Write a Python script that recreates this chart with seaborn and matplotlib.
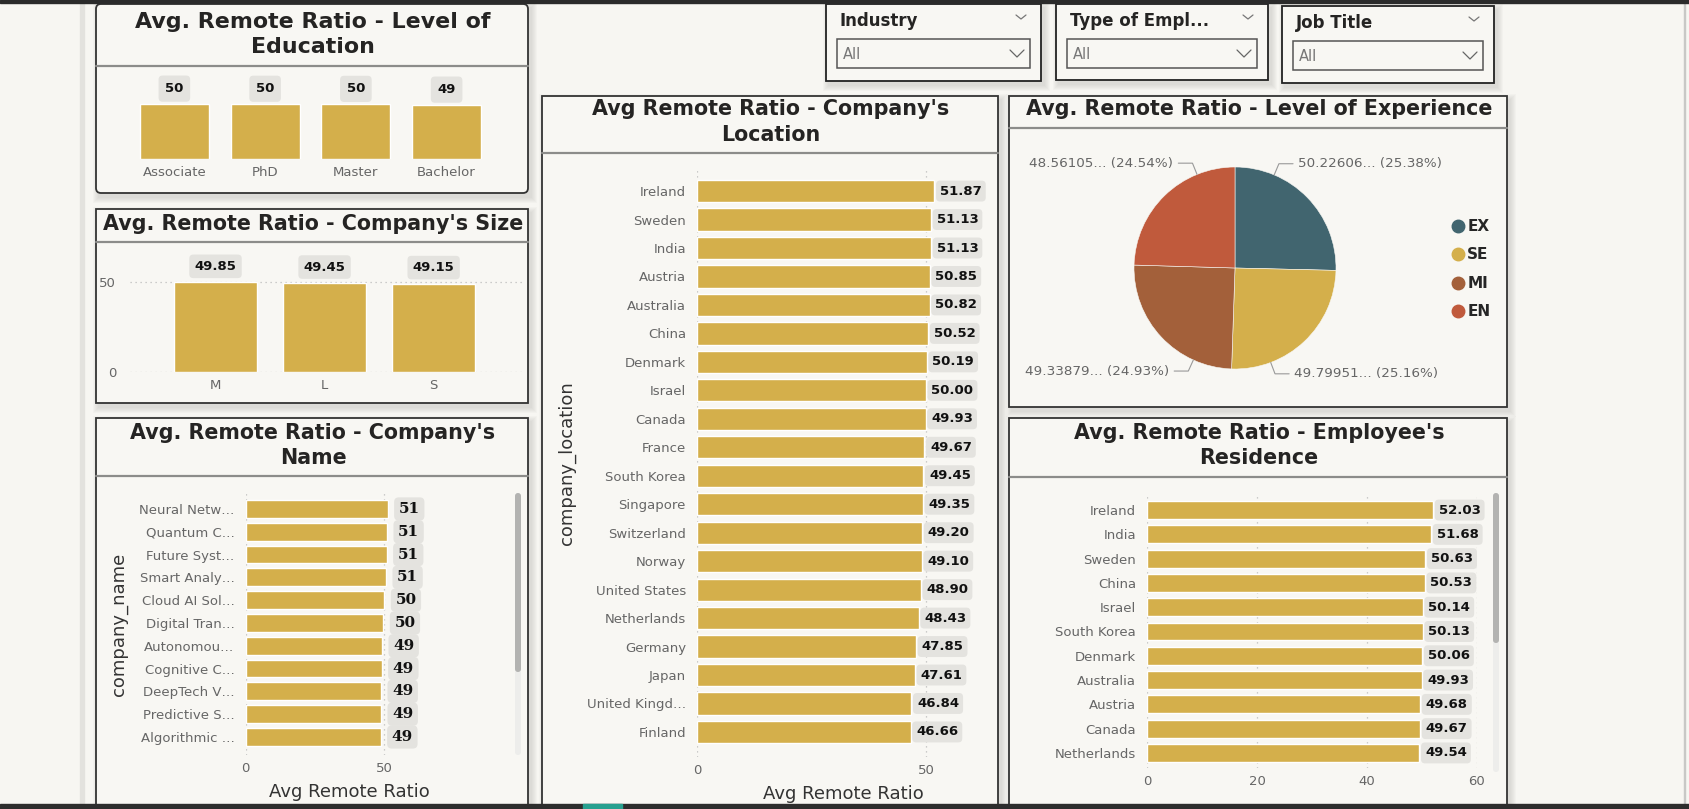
import numpy as np
import pandas as pd
import matplotlib
matplotlib.use("Agg")
import matplotlib.pyplot as plt
import seaborn as sns
from matplotlib.patches import Rectangle, FancyBboxPatch
from matplotlib.lines import Line2D

# ---------------- data ----------------
edu_levels = ["Associate", "PhD", "Master", "Bachelor"]
edu_ratio = [50.1, 50.0, 49.9, 49.2]

size_cats = ["M", "L", "S"]
size_ratio = [49.85, 49.45, 49.15]

company_names = ["Neural Netw…", "Quantum C…", "Future Syst…", "Smart Analy…",
                 "Cloud AI Sol…", "Digital Tran…", "Autonomou…", "Cognitive C…",
                 "DeepTech V…", "Predictive S…", "Algorithmic …"]
company_ratio = [51.2, 50.96, 50.84, 50.6, 50.0, 49.64, 49.16, 49.04, 48.8, 48.8, 48.68]

loc_countries = ["Ireland", "Sweden", "India", "Austria", "Australia", "China", "Denmark",
                 "Israel", "Canada", "France", "South Korea", "Singapore", "Switzerland",
                 "Norway", "United States", "Netherlands", "Germany", "Japan",
                 "United Kingd…", "Finland"]
loc_ratio = [51.87, 51.13, 51.13, 50.85, 50.82, 50.52, 50.19, 50.00, 49.93, 49.67,
             49.45, 49.35, 49.20, 49.10, 48.90, 48.43, 47.85, 47.61, 46.84, 46.66]

exp_levels = ["EX", "SE", "MI", "EN"]
exp_ratio = [50.22606, 49.79951, 49.33879, 48.56105]

res_countries = ["Ireland", "India", "Sweden", "China", "Israel", "South Korea", "Denmark",
                 "Australia", "Austria", "Canada", "Netherlands"]
res_ratio = [52.03, 51.68, 50.63, 50.53, 50.14, 50.13, 50.06, 49.93, 49.68, 49.67, 49.54]

slicer_titles = ["Industry", "Type of Empl...", "Job Title"]
slicer_values = ["All", "All", "All"]

# ---------------- style ----------------
sns.set_style("white")
plt.rcParams["font.family"] = ["DejaVu Sans"]

GOLD = "#D4AF4B"
PIE_COLORS = ["#41656F", "#D4AF4B", "#A3603A", "#C05A3C"]
BG = "#F7F6F2"
PANEL = "#F8F7F3"
TITLE_C = "#252423"
TICK_C = "#666666"
LABEL_BOX = "#E4E3DF"

W, H = 1690, 809
fig = plt.figure(figsize=(W / 100, H / 100), dpi=100, facecolor=BG)

bg = fig.add_axes([0, 0, 1, 1])
bg.set_xlim(0, W)
bg.set_ylim(H, 0)
bg.axis("off")


def fax(l, t, r, b):
    a = fig.add_axes([l / W, 1 - b / H, (r - l) / W, (b - t) / H])
    a.set_facecolor("none")
    return a


# page decorations
bg.add_patch(Rectangle((0, 0), W, 3, color="#2B2B2B", zorder=5))
bg.add_patch(Rectangle((0, 804), W, 5, color="#2D2D2D", zorder=5))
bg.add_patch(Rectangle((583, 804), 39, 5, color="#27A08F", zorder=6))
bg.add_patch(Rectangle((80, 3), 4, 801, color="#E3E2DE", zorder=1))
bg.add_patch(Rectangle((1684, 3), 1, 801, color="#C8C8C6", zorder=1))


def shadow(x0, y0, x1, y1):
    for k in range(6, 0, -1):
        bg.add_patch(Rectangle((x0 - k + 3, y0 - k + 4), (x1 - x0) + 2 * k, (y1 - y0) + 2 * k,
                               color="#9A9A96", alpha=0.05, lw=0, zorder=1))


def panel(x0, y0, x1, y1, sep=None, rounded=False):
    shadow(x0, y0, x1, y1)
    if rounded:
        p = FancyBboxPatch((x0, y0), x1 - x0, y1 - y0, boxstyle="round,pad=0,rounding_size=5",
                           fc=PANEL, ec="#333333", lw=1.3, zorder=2)
    else:
        p = Rectangle((x0, y0), x1 - x0, y1 - y0, fc=PANEL, ec="#333333", lw=1.3, zorder=2)
    bg.add_patch(p)
    if sep is not None:
        bg.plot([x0, x1], [sep, sep], color="#8C8C8A", lw=1.6, zorder=3)


def title(xc, ys, lines, size=14.9):
    for y, s in zip(ys, lines):
        bg.text(xc, y, s, ha="center", va="center", fontsize=size, fontweight="bold",
                color=TITLE_C, zorder=4)


# panels
panel(96, 4, 528, 193, sep=66, rounded=True)
title(313, [22, 47], ["Avg. Remote Ratio - Level of", "Education"], size=15.9)
panel(96, 209, 528, 403, sep=242)
title(313, [224], ["Avg. Remote Ratio - Company's Size"])
panel(96, 418, 528, 806, sep=476)
title(313, [433, 458], ["Avg. Remote Ratio - Company's", "Name"])
panel(542, 96, 998, 806, sep=153)
title(771, [109, 135], ["Avg Remote Ratio - Company's", "Location"])
panel(1009, 96, 1507, 407, sep=128)
title(1259, [109], ["Avg. Remote Ratio - Level of Experience"])
panel(1009, 418, 1507, 806, sep=477)
title(1259, [433, 458], ["Avg. Remote Ratio - Employee's", "Residence"])

# slicers
slicer_boxes = [(826, 4, 1041, 81), (1056, 4, 1268, 80), (1282, 6, 1494, 83)]
for (x0, y0, x1, y1), t, v in zip(slicer_boxes, slicer_titles, slicer_values):
    shadow(x0, y0, x1, y1)
    bg.add_patch(Rectangle((x0, y0), x1 - x0, y1 - y0, fc=PANEL, ec="#222222", lw=1.3, zorder=2))
    bg.text(x0 + 14, y0 + 17, t, ha="left", va="center", fontsize=12, fontweight="bold",
            color="#252423", zorder=4)
    cx = x1 - 20
    bg.plot([cx - 5, cx, cx + 5], [y0 + 11, y0 + 15, y0 + 11], color="#777777", lw=0.9, zorder=4)
    ix0, iy0, ix1, iy1 = x0 + 11, y0 + 35, x1 - 11, y0 + 64
    bg.add_patch(Rectangle((ix0, iy0), ix1 - ix0, iy1 - iy0, fc=PANEL, ec="#555555", lw=1.1, zorder=3))
    bg.text(ix0 + 6, (iy0 + iy1) / 2 + 1, v, ha="left", va="center", fontsize=10.5,
            color="#777777", zorder=4)
    cx = ix1 - 13
    cy = (iy0 + iy1) / 2
    bg.plot([cx - 7, cx, cx + 7], [cy - 3.5, cy + 3.5, cy - 3.5], color="#666666", lw=0.9, zorder=4)

# scrollbars
for (sx, st, sb, tb) in [(515, 493, 755, 672), (1493, 493, 772, 643)]:
    bg.add_patch(FancyBboxPatch((sx, st), 6, sb - st, boxstyle="round,pad=0,rounding_size=3",
                                fc="#EDEDEB", ec="none", zorder=3))
    bg.add_patch(FancyBboxPatch((sx, st), 6, tb - st, boxstyle="round,pad=0,rounding_size=3",
                                fc="#B3B3B1", ec="none", zorder=3))


def style_hbar(ax):
    for s in ax.spines.values():
        s.set_visible(False)
    ax.tick_params(axis="both", length=0, labelsize=9.5, labelcolor=TICK_C)
    ax.tick_params(axis="y", pad=8)
    ax.tick_params(axis="x", pad=5)
    ax.xaxis.grid(True, ls=(0, (1, 3)), color="#BDBDBD", lw=0.9)
    ax.yaxis.grid(False)
    ax.set_axisbelow(True)


def value_box(ax, text, xy, off, ha, size=9.5, family=None, pad=0.3):
    kw = dict(textcoords="offset points", ha=ha, va="center", fontsize=size,
              fontweight="bold", color="#111111",
              bbox=dict(boxstyle=f"round,pad={pad},rounding_size=0.3", fc=LABEL_BOX, ec="none"),
              annotation_clip=False)
    if family:
        kw["family"] = family
    ax.annotate(text, xy=xy, xytext=off, **kw)


# ---------------- Education ----------------
ax = fax(129, 75, 492, 159)
df = pd.DataFrame({"level": edu_levels, "ratio": edu_ratio})
sns.barplot(data=df, x="level", y="ratio", color=GOLD, width=0.76, ax=ax, saturation=1)
ax.set_ylim(0, 76.4)
ax.set_xlim(-0.5, 3.5)
for s in ax.spines.values():
    s.set_visible(False)
ax.set_yticks([])
ax.set_xlabel("")
ax.set_ylabel("")
ax.tick_params(axis="x", length=0, labelsize=9.5, labelcolor=TICK_C, pad=5)
for i, v in enumerate(edu_ratio):
    value_box(ax, f"{v:.0f}", (i, v), (0, 11), "center", size=9.5, pad=0.5)

# ---------------- Company size ----------------
ax = fax(130, 250, 522, 372)
df = pd.DataFrame({"size": size_cats, "ratio": size_ratio})
sns.barplot(data=df, x="size", y="ratio", color=GOLD, width=0.757, ax=ax, saturation=1)
ax.set_ylim(0, 67.8)
ax.set_xlim(-0.784, 2.81)
for s in ax.spines.values():
    s.set_visible(False)
ax.set_yticks([0, 50])
ax.yaxis.grid(True, ls=(0, (1, 3)), color="#BDBDBD", lw=0.9)
ax.set_axisbelow(True)
ax.set_xlabel("")
ax.set_ylabel("")
ax.tick_params(axis="both", length=0, labelsize=9.5, labelcolor=TICK_C)
ax.tick_params(axis="x", pad=5)
ax.tick_params(axis="y", pad=10)
for i, v in enumerate(size_ratio):
    value_box(ax, f"{v:.2f}", (i, v), (0, 11.5), "center", size=9.5, pad=0.4)

# ---------------- Company name ----------------
ax = fax(245.7, 493, 453, 755)
df = pd.DataFrame({"company_name": company_names, "ratio": company_ratio})
sns.barplot(data=df, x="ratio", y="company_name", orient="h", color=GOLD, width=0.78,
            ax=ax, saturation=1)
ax.set_xlim(0, 74.8)
ax.set_ylim(10.79, -0.70)
ax.set_xticks([0, 50])
style_hbar(ax)
ax.set_xlabel("Avg Remote Ratio", fontsize=13, color="#333333", labelpad=6)
ax.set_ylabel("company_name", fontsize=13, color="#333333", labelpad=8)
for i, v in enumerate(company_ratio):
    value_box(ax, f"{v:.0f}", (v, i), (8, 0), "left", size=11, family="DejaVu Serif", pad=0.3)

# ---------------- Company location ----------------
ax = fax(697, 170, 990, 757)
df = pd.DataFrame({"company_location": loc_countries, "ratio": loc_ratio})
sns.barplot(data=df, x="ratio", y="company_location", orient="h", color=GOLD, width=0.78,
            ax=ax, saturation=1)
ax.set_xlim(0, 64)
ax.set_ylim(19.88, -0.74)
ax.set_xticks([0, 50])
style_hbar(ax)
ax.set_xlabel("Avg Remote Ratio", fontsize=13, color="#333333", labelpad=6)
ax.set_ylabel("company_location", fontsize=13, color="#333333", labelpad=8)
for i, v in enumerate(loc_ratio):
    value_box(ax, f"{v:.2f}", (v, i), (4, 0), "left")

# ---------------- Employee residence ----------------
ax = fax(1147, 495, 1477, 768)
df = pd.DataFrame({"employee_residence": res_countries, "ratio": res_ratio})
sns.barplot(data=df, x="ratio", y="employee_residence", orient="h", color=GOLD, width=0.74,
            ax=ax, saturation=1)
ax.set_xlim(0, 60)
ax.set_ylim(10.62, -0.62)
ax.set_xticks([0, 20, 40, 60])
style_hbar(ax)
ax.set_xlabel("")
ax.set_ylabel("")
for i, v in enumerate(res_ratio):
    value_box(ax, f"{v:.2f}", (v, i), (4, 0), "left")

# ---------------- Experience pie ----------------
pax = fax(1235 - 130, 268 - 130, 1235 + 130, 268 + 130)
wedges, _ = pax.pie(exp_ratio, colors=PIE_COLORS, startangle=90, counterclock=False,
                    radius=1, wedgeprops=dict(edgecolor=PANEL, linewidth=0.4))
pax.set_xlim(-1.287, 1.287)
pax.set_ylim(-1.287, 1.287)
pax.set_aspect("equal")
total = sum(exp_ratio)


def vert_dist(a):
    a = a % 360
    return min(abs(a - 90), abs(a - 270))


for w, v in zip(wedges, exp_ratio):
    t1, t2 = w.theta1, w.theta2
    span = t2 - t1
    if vert_dist(t1) < vert_dist(t2):
        ang = t1 + 0.25 * span
    else:
        ang = t2 - 0.25 * span
    r = np.deg2rad(ang)
    ax0, ay0 = np.cos(r) * 1.0, np.sin(r) * 1.0
    ex, ey = np.cos(r) * 1.12, np.sin(r) * 1.12
    sgn = 1 if np.cos(r) > 0 else -1
    hx = ex + sgn * 0.14
    pax.plot([ax0, ex, hx], [ay0, ey, ey], color="#999999", lw=0.8, clip_on=False)
    pax.text(hx + sgn * 0.05, ey, f"{v:.5f}... ({v / total * 100:.2f}%)",
             ha="left" if sgn > 0 else "right", va="center", fontsize=9.7, color=TICK_C,
             clip_on=False)

handles = [Line2D([0], [0], marker="o", ls="", markersize=9, markerfacecolor=c,
                  markeredgecolor=c) for c in PIE_COLORS]
fig.legend(handles, exp_levels, loc="upper left", bbox_to_anchor=(1452 / W, 1 - 219 / H),
           frameon=False, prop=dict(weight="bold", size=11), handlelength=0.8,
           handletextpad=0.2, labelspacing=0.88, borderaxespad=0, borderpad=0)

fig.savefig("out.png", dpi=100, facecolor=BG)
